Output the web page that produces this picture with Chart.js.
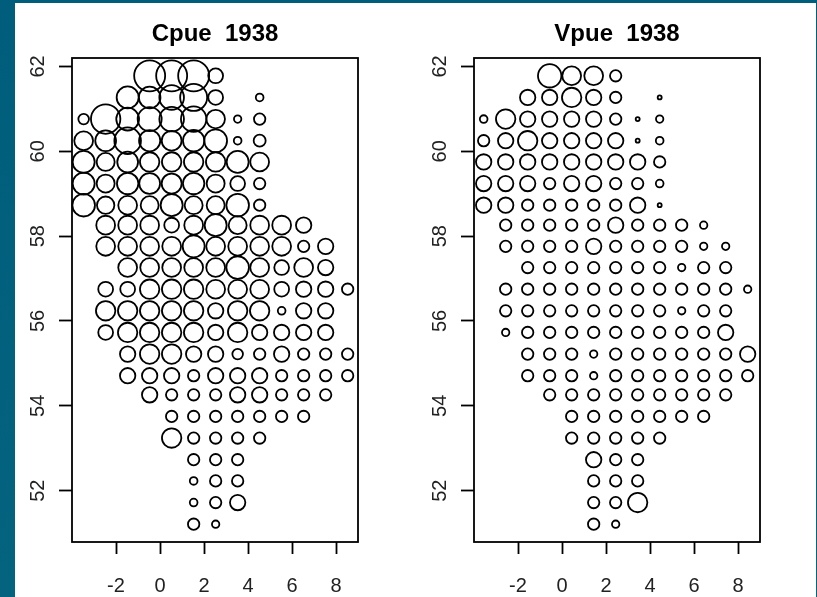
<!DOCTYPE html>
<html>
<head>
<meta charset="utf-8">
<script src="https://cdn.jsdelivr.net/npm/chart.js@4"></script>
<style>
html,body{margin:0;padding:0;width:817px;height:597px;overflow:hidden;background:linear-gradient(#005e7c,#04637f);}
#sheet{position:absolute;left:15px;top:3px;width:801px;height:594px;background:#fff;}
canvas{position:absolute;top:0;}
#c1{left:0;}
#c2{left:408px;}
</style>
</head>
<body>
<div id="sheet"></div>
<canvas id="c1" width="408" height="597"></canvas>
<canvas id="c2" width="408" height="597"></canvas>
<script>
const titles = ["Cpue  1938", "Vpue  1938"];
const xTickValues = [-2, 0, 2, 4, 6, 8];
const yTickValues = [52, 54, 56, 58, 60, 62];
const cpueLongitudes = [-3.47,-2.47,-1.47,-0.47,0.53,1.53,2.53,3.53,4.53,5.53,6.53,7.53,8.53];
const vpueLongitudes = [-3.56,-2.56,-1.56,-0.56,0.44,1.44,2.44,3.44,4.44,5.44,6.44,7.44,8.44];
const latitudes = [61.78,61.27,60.76,60.25,59.75,59.24,58.73,58.26,57.76,57.26,56.75,56.24,55.73,55.22,54.71,54.26,53.75,53.24,52.73,52.23,51.72,51.21];
const _ = 0;
// relative catch / value per unit effort, one row per latitude, one column per longitude
const cpueRows = [
 [_,_,_,15.5,15.5,15.5,7.4,_,_,_,_,_,_],
 [_,_,11,10.8,12.3,13.5,7.4,_,3.85,_,_,_,_],
 [5.3,14.7,11.4,12,12.3,12.7,9.3,3.7,5.7,_,_,_,_],
 [9.4,10.4,13.3,10.6,9.9,10.7,11.4,3.85,6,_,_,_,_],
 [11,9,10.4,9.7,9.7,9.7,9.7,11,9.4,_,_,_,_],
 [11,9,10.7,10.4,10,10.7,9,7.4,5.7,_,_,_,_],
 [11.3,8.7,9.4,9,11,9,9,11.3,5.7,_,_,_,_],
 [_,9.4,9.4,9.4,7.4,9.4,11,9,9.4,9.4,7.7,_,_],
 [_,9.4,9.4,9.4,9.4,11,9.4,9.4,9.4,9.4,5.7,7.7,_],
 [_,_,9.4,9.4,9.4,9.4,9.4,11.3,9.4,7.4,9.4,7.7,_],
 [_,7.4,7.4,9.7,9.7,9.7,9.4,9.4,9.4,7.4,7.7,7.7,5.7],
 [_,9.7,9.7,9.7,9.7,9.7,7.7,9.7,9.7,3.85,7.7,7.7,_],
 [_,7.4,9.7,9.7,9.7,9.7,7.7,9.7,7.7,7.7,7.7,7.7,_],
 [_,_,7.7,9.7,9.7,7.7,7.7,5.3,5.7,7.7,5.7,5.7,5.7],
 [_,_,7.7,7.7,7.7,5.7,7.7,7.7,7.7,5.7,5.7,5.7,5.7],
 [_,_,_,7.7,5.7,5.7,5.7,7.7,7.7,5.7,5.7,5.7,_],
 [_,_,_,_,5.7,5.7,5.7,5.7,5.7,5.7,5.7,_,_],
 [_,_,_,_,9.7,5.7,5.7,5.7,5.7,_,_,_,_],
 [_,_,_,_,_,5.7,5.7,5.7,_,_,_,_,_],
 [_,_,_,_,_,3.85,5.7,5.7,_,_,_,_,_],
 [_,_,_,_,_,3.85,5.7,7.7,_,_,_,_,_],
 [_,_,_,_,_,5.7,3.7,_,_,_,_,_,_]
];
const vpueRows = [
 [_,_,_,11.7,9.4,9.4,5.7,_,_,_,_,_,_],
 [_,_,7.7,7.7,9.7,7.7,5.7,_,2,_,_,_,_],
 [3.85,9.7,7.7,7.7,7.7,7.7,5.7,2,3.7,_,_,_,_],
 [5.7,7.7,9.7,7.7,7.7,7.7,7.7,2,3.85,_,_,_,_],
 [7.7,7.7,7.7,7.7,7.7,7.7,7.7,7.7,5.7,_,_,_,_],
 [7.7,7.7,7.7,5.7,7.7,7.7,5.7,5.7,3.85,_,_,_,_],
 [7.7,7.7,5.7,5.7,5.7,5.7,5.7,7.7,2,_,_,_,_],
 [_,5.7,5.7,5.7,5.7,5.7,7.7,5.7,5.7,5.7,3.7,_,_],
 [_,5.7,5.7,5.7,5.7,7.7,5.7,5.7,5.7,5.7,3.7,3.7,_],
 [_,_,5.7,5.7,5.7,5.7,5.7,5.7,5.7,3.7,5.7,5.7,_],
 [_,5.7,5.7,5.7,5.7,5.7,5.7,5.7,5.7,5.7,5.7,5.7,3.7],
 [_,5.7,5.7,5.7,5.7,5.7,5.7,5.7,5.7,3.7,5.7,5.7,_],
 [_,3.7,5.7,5.7,5.7,5.7,5.7,5.7,5.7,5.7,5.7,7.7,_],
 [_,_,5.7,5.7,5.7,3.7,5.7,5.7,5.7,5.7,5.7,5.7,7.7],
 [_,_,5.7,5.7,5.7,3.7,5.7,5.7,5.7,5.7,5.7,5.7,5.7],
 [_,_,_,5.7,5.7,5.7,5.7,5.7,5.7,5.7,5.7,5.7,_],
 [_,_,_,_,5.7,5.7,5.7,5.7,5.7,5.7,5.7,_,_],
 [_,_,_,_,5.7,5.7,5.7,5.7,5.7,_,_,_,_],
 [_,_,_,_,_,7.7,5.7,5.7,_,_,_,_,_],
 [_,_,_,_,_,5.7,5.7,5.7,_,_,_,_,_],
 [_,_,_,_,_,5.7,5.7,9.7,_,_,_,_,_],
 [_,_,_,_,_,5.7,3.7,_,_,_,_,_,_]
];

const boxPlugin = {
  id: 'box',
  afterDraw(chart) {
    const a = chart.chartArea, c = chart.ctx;
    c.save();
    c.strokeStyle = '#000';
    c.lineWidth = 1.8;
    c.strokeRect(a.left, a.top, a.width, a.height);
    c.restore();
  }
};

function bubbles(rows, longitudes) {
  const pts = [];
  rows.forEach((row, i) => row.forEach((v, j) => {
    if (v > 0) pts.push({x: longitudes[j], y: latitudes[i], r: v});
  }));
  return pts;
}

function draw(id, title, rows, longitudes, yAxisWidth, rightPad) {
  const font = {family: '"Liberation Sans", Arial, sans-serif', size: 20};
  new Chart(document.getElementById(id), {
    type: 'bubble',
    plugins: [boxPlugin],
    data: {datasets: [{
      data: bubbles(rows, longitudes),
      backgroundColor: 'transparent',
      borderColor: '#000',
      borderWidth: 1.8,
      clip: false
    }]},
    options: {
      responsive: false,
      animation: false,
      events: [],
      layout: {padding: {left: 0, right: rightPad, top: 0, bottom: 0}},
      plugins: {
        legend: {display: false},
        tooltip: {enabled: false},
        title: {
          display: true,
          text: title,
          fullSize: false,
          color: '#000',
          font: {family: font.family, size: 24, weight: 'bold', lineHeight: 1.2},
          padding: {top: 19.6, bottom: 9.6}
        }
      },
      scales: {
        x: {
          type: 'linear', min: -4, max: 9,
          afterFit(s) { s.height = 55; },
          afterBuildTicks(s) { s.ticks = xTickValues.map(v => ({value: v})); },
          border: {display: false},
          grid: {drawOnChartArea: false, drawTicks: true, tickLength: 12, tickWidth: 1.8, tickColor: '#000'},
          ticks: {color: '#222', font, padding: 20, maxRotation: 0, autoSkip: false, callback: v => String(v)}
        },
        y: {
          type: 'linear', min: 50.79, max: 62.2,
          afterFit(s) { s.width = yAxisWidth; },
          afterBuildTicks(s) { s.ticks = yTickValues.map(v => ({value: v})); },
          border: {display: false},
          grid: {drawOnChartArea: false, drawTicks: true, tickLength: 13, tickWidth: 1.8, tickColor: '#000'},
          ticks: {color: '#222', font, padding: 9, minRotation: 90, maxRotation: 90, crossAlign: 'center', autoSkip: false, callback: v => String(v)}
        }
      }
    }
  });
}
draw('c1', titles[0], cpueRows, cpueLongitudes, 72, 50);
draw('c2', titles[1], vpueRows, vpueLongitudes, 66, 56);
</script>
</body>
</html>
